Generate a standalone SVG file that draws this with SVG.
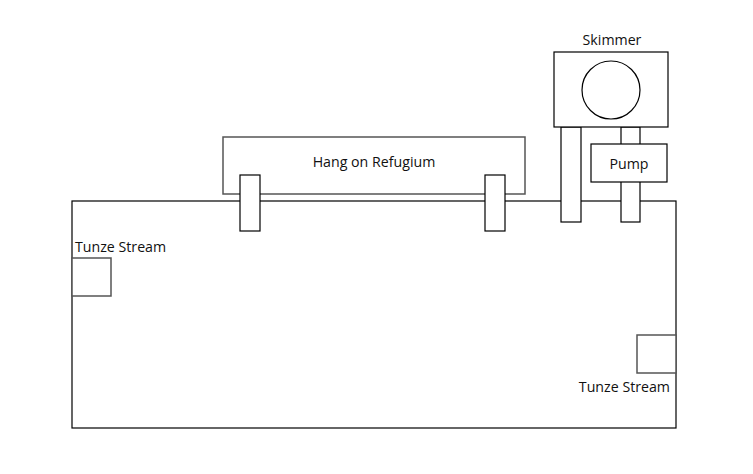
<svg xmlns="http://www.w3.org/2000/svg" width="753" height="474" viewBox="0 0 753 474">
<style>
.b{fill:#fff;stroke:#000;stroke-width:1.2}
.g{fill:#fff;stroke:#555;stroke-width:1.5}
.t{font-family:"Open Sans","Liberation Sans",sans-serif;font-size:14.2px;fill:#111}
</style>
<rect width="753" height="474" fill="#fff"/>
<g id="tank"><rect class="b" x="72" y="201" width="604" height="227"/></g>
<g id="refugium">
<rect class="g" x="223" y="137" width="302" height="57"/>
<text class="t" x="374" y="167" text-anchor="middle">Hang on Refugium</text>
<rect class="b" x="240" y="175" width="20" height="56"/>
<rect class="b" x="485" y="175" width="20" height="56"/>
</g>
<g id="skimmer">
<text class="t" x="612" y="45" text-anchor="middle">Skimmer</text>
<rect class="b" x="561" y="127" width="20" height="95"/>
<rect class="b" x="621" y="127" width="19" height="95"/>
<rect class="b" x="554" y="52" width="114" height="75"/>
<circle class="b" cx="611" cy="90" r="29"/>
</g>
<g id="pump">
<rect class="b" x="591" y="144" width="76" height="38"/>
<text class="t" x="629" y="169" text-anchor="middle">Pump</text>
</g>
<g id="tunze1">
<text class="t" x="75" y="252">Tunze Stream</text>
<rect class="g" x="72" y="258" width="39" height="38"/>
</g>
<g id="tunze2">
<rect class="g" x="637" y="335" width="39" height="38"/>
<text class="t" x="670" y="392" text-anchor="end">Tunze Stream</text>
</g>
<g id="connectors"></g>
</svg>
